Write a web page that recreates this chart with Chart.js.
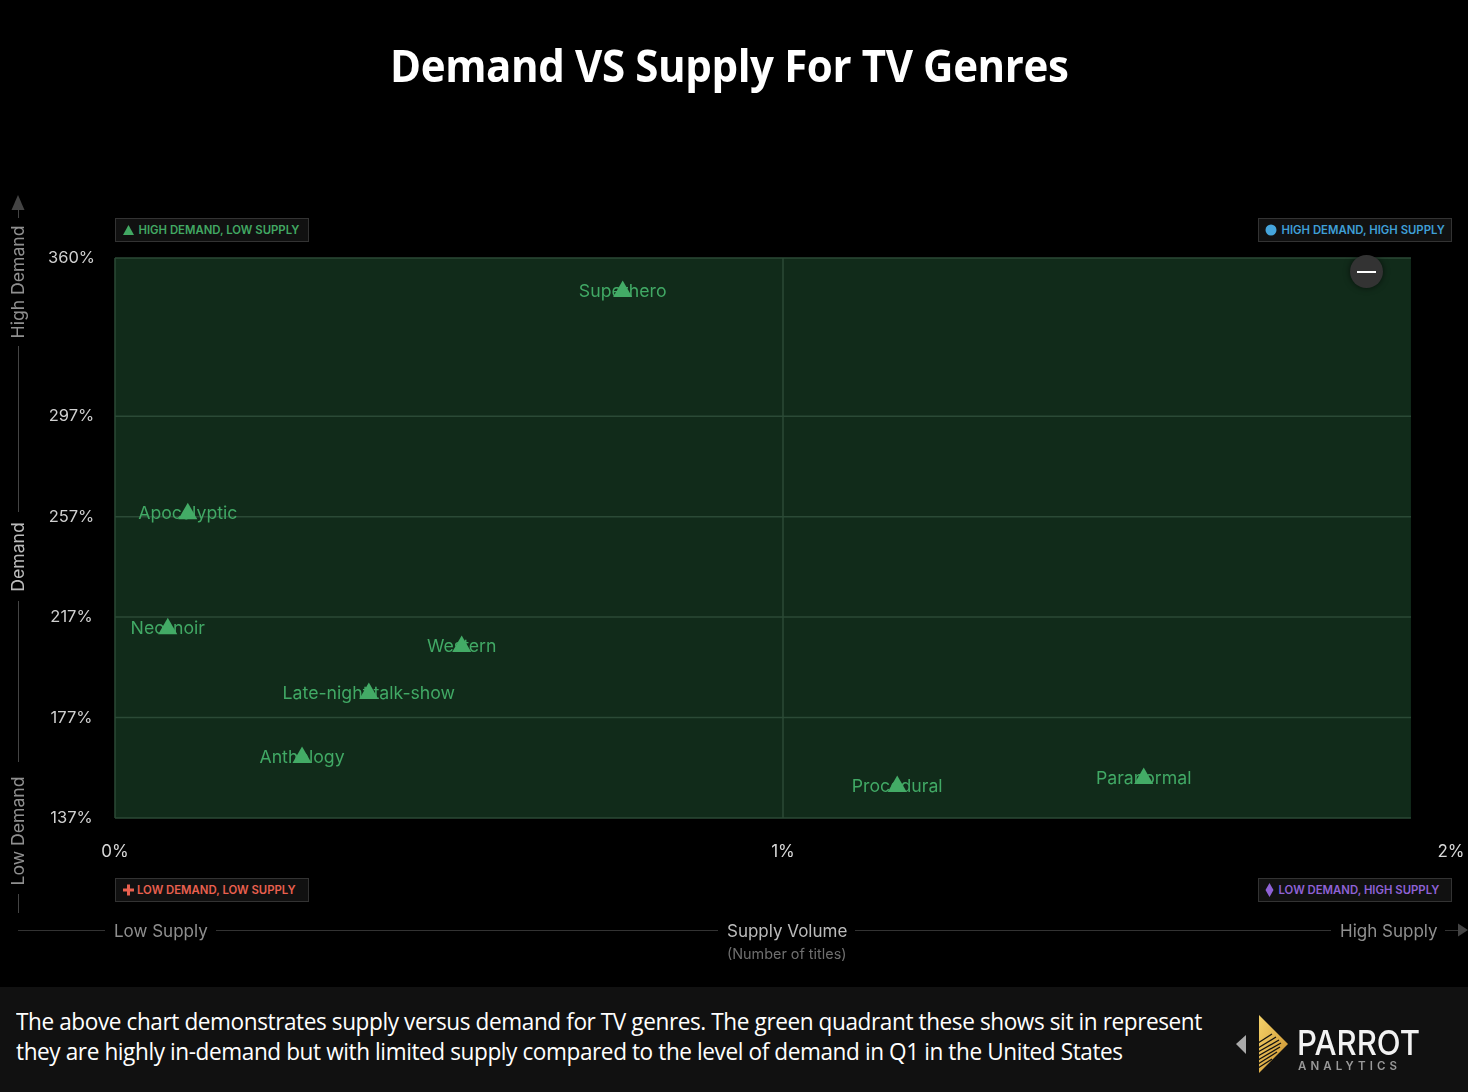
<!DOCTYPE html>
<html><head><meta charset="utf-8">
<script src="https://cdn.jsdelivr.net/npm/chart.js@4"></script>
<style>
html,body{margin:0;padding:0;background:#000;}
#wrap{position:relative;width:1468px;height:1092px;overflow:hidden;background:#000;font-family:Inter,sans-serif;}
#wrap canvas{position:absolute;left:0;top:0;}
.abs{position:absolute;white-space:nowrap;}
#title{left:390px;top:35px;font:700 44px/60px "Open Sans",sans-serif;color:#fff;letter-spacing:-.4px;transform-origin:left top;transform:scaleX(.955);}
.badge{position:absolute;width:192px;height:22px;background:#111;border:1px solid #333;font:600 11.35px/22px Inter,sans-serif;box-sizing:content-box;white-space:nowrap;}
.badge span{position:absolute;top:0;}
.badge svg{position:absolute;top:0;left:0;}
.ax{color:#8f8f8f;font:400 17px/20px Inter,sans-serif;}
.vt{transform:translate(-50%,-50%) rotate(-90deg);font-size:17.6px;}
.hl{position:absolute;height:1px;background:#333;top:930px;}
.vl{position:absolute;width:1px;background:#444;left:18px;}
#foot{position:absolute;left:0;top:987px;width:1468px;height:105px;background:#111;}
#cap{left:16px;top:1006px;font:500 24.5px/30px "Open Sans",sans-serif;color:#fff;letter-spacing:-.45px;transform-origin:left top;transform:scaleX(.922);}
#minus{position:absolute;left:1350px;top:255px;width:33px;height:33px;border-radius:50%;background:#333;box-shadow:0 0 6px rgba(0,0,0,.6);}
#minus i{position:absolute;left:7px;top:16px;width:19px;height:2px;background:#fff;}
</style></head>
<body><div id="wrap">
<canvas id="c" width="1468" height="1092"></canvas>
<div id="title" class="abs">Demand VS Supply For TV Genres</div>

<div class="badge" style="left:115px;top:218px;color:#42a863"><svg width="24" height="22"><polygon points="12.5,6 18,16 7,16" fill="#42a863"/></svg><span style="left:22.5px">HIGH DEMAND, LOW SUPPLY</span></div>
<div class="badge" style="left:1258px;top:218px;color:#3f9fd6"><svg width="24" height="22"><circle cx="12" cy="11" r="5.5" fill="#45a5dc"/></svg><span style="left:22.5px">HIGH DEMAND, HIGH SUPPLY</span></div>
<div class="badge" style="left:115px;top:878px;color:#e9604f"><svg width="24" height="22"><path d="M7 11H18M12.5 5.5V16.5" stroke="#e9604f" stroke-width="3"/></svg><span style="left:21px">LOW DEMAND, LOW SUPPLY</span></div>
<div class="badge" style="left:1258px;top:878px;color:#8f62d6"><svg width="24" height="22"><polygon points="10.5,4 14.5,11 10.5,18 6.5,11" fill="#8f62d6"/></svg><span style="left:19.5px">LOW DEMAND, HIGH SUPPLY</span></div>

<svg class="abs" style="left:0;top:0" width="1468" height="1092">
<polygon points="18,195 24.5,210 11.5,210" fill="#444"/>
<polygon points="1468,930 1458,923.5 1458,936.5" fill="#444"/>
</svg>
<div class="vl" style="top:210px;height:8px"></div>
<div class="vl" style="top:346px;height:166px"></div>
<div class="vl" style="top:601px;height:161px"></div>
<div class="vl" style="top:894px;height:19px"></div>
<div class="abs ax vt" style="left:18px;top:282px">High Demand</div>
<div class="abs ax vt" style="left:18px;top:557px;color:#bbb">Demand</div>
<div class="abs ax vt" style="left:18px;top:831px">Low Demand</div>

<div class="hl" style="left:18px;width:87px"></div>
<div class="hl" style="left:216px;width:502px"></div>
<div class="hl" style="left:855px;width:476px"></div>
<div class="hl" style="left:1445px;width:13px"></div>
<div class="abs ax" style="left:114px;top:921px">Low Supply</div>
<div class="abs ax" style="left:727px;top:921px;color:#bbb">Supply Volume</div>
<div class="abs ax" style="left:1340px;top:921px">High Supply</div>
<div class="abs" style="left:727px;top:945px;font:400 14.4px/18px Inter,sans-serif;color:#6f6f6f">(Number of titles)</div>

<div id="minus"><i></i></div>

<div id="foot"></div>
<div id="cap" class="abs">The above chart demonstrates supply versus demand for TV genres. The green quadrant these shows sit in represent<br>they are highly in-demand but with limited supply compared to the level of demand in Q1 in the United States</div>

<svg class="abs" style="left:0;top:0" width="1468" height="1092">
<defs><linearGradient id="g" x1="0" y1="0" x2="1" y2="1"><stop offset="0" stop-color="#f6d36a"/><stop offset="1" stop-color="#c98f2c"/></linearGradient></defs>
<polygon points="1246,1035 1236,1044 1246,1054" fill="#aaa"/>
<polygon points="1259,1015 1288,1044 1259,1073" fill="url(#g)"/>
<g stroke="#111" stroke-width="1.3">
<line x1="1258" y1="1043" x2="1272" y2="1034"/>
<line x1="1258" y1="1048" x2="1276" y2="1037"/>
<line x1="1258" y1="1052" x2="1279" y2="1040"/>
<line x1="1258" y1="1056" x2="1281" y2="1043"/>
<line x1="1258" y1="1060" x2="1280" y2="1047"/>
<line x1="1258" y1="1064" x2="1277" y2="1052"/>
<line x1="1258" y1="1068" x2="1272" y2="1059"/>
</g>
<text x="1297" y="1055" font-family="Inter,sans-serif" font-weight="500" font-size="34" fill="#f2f2f2" textLength="123" lengthAdjust="spacingAndGlyphs">PARROT</text>
<text x="1298" y="1070" font-family="Inter,sans-serif" font-weight="600" font-size="11.5" fill="#999" textLength="99">ANALYTICS</text>
</svg>
</div>
<script>
const genres = ["Superhero","Apocalyptic","Neo-noir","Western","Late-night talk-show","Anthology","Procedural","Paranormal"];
const supplyValues = [0.76,0.109,0.079,0.519,0.38,0.28,1.171,1.54];
const demandValues = [346.7,258.2,212.4,205.3,186.6,161.1,149.5,152.7];
const xTicks = [0,1,2];
const yTicks = [137,177,217,257,297,360];
const quadrantEndX = 1.94;

const quadrantPlugin = {
  id:'quadrant',
  beforeDatasetsDraw(chart){
    const {ctx,scales:{x,y}} = chart;
    const l=x.getPixelForValue(0), r=x.getPixelForValue(quadrantEndX), t=y.getPixelForValue(360), b=y.getPixelForValue(137);
    ctx.save();
    ctx.fillStyle='#112b1a'; ctx.fillRect(l,t,r-l,b-t);
    ctx.strokeStyle='#2b4a36'; ctx.lineWidth=1.5;
    ctx.beginPath();
    yTicks.forEach(v=>{const p=y.getPixelForValue(v); ctx.moveTo(l,p); ctx.lineTo(r,p);});
    const m=x.getPixelForValue(1);
    ctx.moveTo(m,t);ctx.lineTo(m,b);
    ctx.moveTo(l,t);ctx.lineTo(l,b);
    ctx.stroke();
    ctx.font='400 17.7px Inter, sans-serif'; ctx.fillStyle='#41a965'; ctx.textAlign='center'; ctx.textBaseline='middle';
    genres.forEach((g,i)=>ctx.fillText(g,x.getPixelForValue(supplyValues[i]),y.getPixelForValue(demandValues[i])));
    ctx.restore();
  }
};

new Chart(document.getElementById('c'),{
  type:'scatter',
  data:{datasets:[{label:'Genres',data:genres.map((g,i)=>({x:supplyValues[i],y:demandValues[i]})),
    pointStyle:'triangle',pointRadius:11,pointHoverRadius:11,backgroundColor:'#43ab66',borderColor:'#43ab66',borderWidth:0}]},
  plugins:[quadrantPlugin],
  options:{
    responsive:false,animation:false,devicePixelRatio:1,
    layout:{padding:{left:0,right:17,top:258,bottom:234}},
    plugins:{legend:{display:false},tooltip:{enabled:false},title:{display:false}},
    scales:{
      x:{type:'linear',min:0,max:2,border:{display:false},grid:{display:false,drawTicks:false},
        afterBuildTicks(s){s.ticks=xTicks.map(v=>({value:v}));},
        afterFit(s){s.height=40;s.paddingLeft=0;s.paddingRight=0;},
        ticks:{color:'#d8d8d8',padding:24,maxRotation:0,font:{family:'Inter',size:17},callback:v=>v+'%'}},
      y:{type:'linear',min:137,max:360,border:{display:false},grid:{display:false,drawTicks:false},
        afterBuildTicks(s){s.ticks=yTicks.map(v=>({value:v}));},
        afterFit(s){s.width=115;},
        ticks:{color:'#d0d0d0',padding:20,crossAlign:'center',font:{family:'Inter',size:16.5},callback:v=>v+'%'}}
    }
  }
});
</script>
</body></html>
